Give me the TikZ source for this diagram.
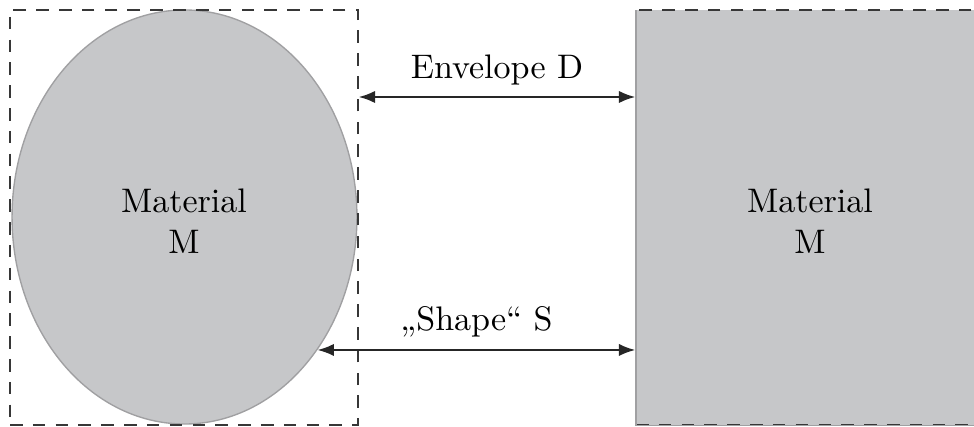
\documentclass[tikz,border=0pt]{standalone}
\usepackage{fontspec}
\usetikzlibrary{arrows.meta,shapes.geometric}
\definecolor{matgray}{RGB}{198,199,201}
\definecolor{edgegray}{RGB}{160,160,162}
\definecolor{dashgray}{RGB}{55,55,55}

\begin{document}
\begin{tikzpicture}[x=0.2937pt, y=-0.2937pt,
    envbox/.style={draw=dashgray, dash pattern=on 3.7pt off 3pt, line width=0.4pt,
        minimum width=102.2pt, minimum height=121.9pt, inner sep=0pt},
    dim/.style={<->, >={Latex[length=4.8pt,width=3.6pt]}, line width=0.6pt, draw=black!85}]
    \useasboundingbox (0,0) rectangle (974,427);
    % Material as shape (ellipse) inside its envelope
    \node[ellipse, fill=matgray, draw=edgegray, line width=0.4pt,
        minimum width=101.3pt, minimum height=121.6pt, inner sep=0pt]
        (ell) at (184.5, 217) {};
    \node[envbox] (lrect) at (184, 217.5) {};
    \node[align=center] (lmat) at (184, 221) {Material\\M};
    % Material filling the whole envelope
    \node[envbox, fill=matgray] (rrect) at (810, 217.5) {};
    \draw[edgegray, line width=0.4pt] (rrect.north west) ++(0.8,0.8) |- (rrect.south east);
    \node[align=center] (rmat) at (810, 221) {Material\\M};
    % Dimensions
    \draw[dim] (lrect.east |- 0,97) -- node[above] (envlbl) {Envelope D} (rrect.west |- 0,97);
    \draw[dim] (ell.-45) -- node[above] (shplbl) {„Shape“ S} (ell.-45 -| rrect.west);
\end{tikzpicture}
\end{document}
